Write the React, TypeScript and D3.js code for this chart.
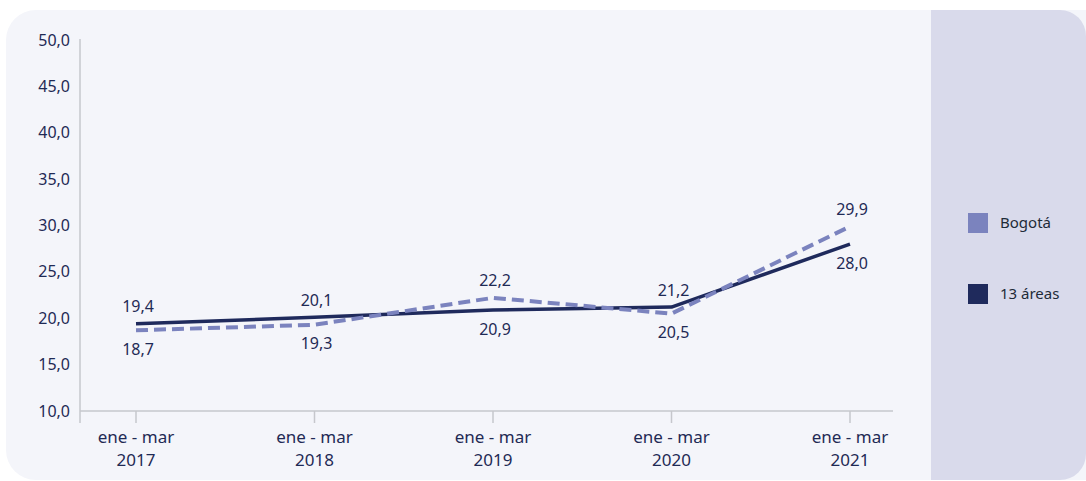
import React, { useEffect, useRef } from 'react';
import * as d3 from 'd3';

const categories = ['2017', '2018', '2019', '2020', '2021'];
const periodLabel = 'ene - mar';
const bogota = [18.7, 19.3, 22.2, 20.5, 29.9];
const areas13 = [19.4, 20.1, 20.9, 21.2, 28.0];
const yTicks = [10, 15, 20, 25, 30, 35, 40, 45, 50];
const seriesNames = ['Bogotá', '13 áreas'];

const W = 1086;
const H = 481;
const navy = '#1f2a5c';
const lilac = '#7b83be';
const textColor = '#1f2a55';
const font = '"Noto Sans", sans-serif';

const fmt = (v: number) => v.toFixed(1).replace('.', ',');

const App = () => {
  const ref = useRef<SVGSVGElement>(null);

  useEffect(() => {
    const svg = d3.select(ref.current);
    svg.selectAll('*').remove();

    // card background
    const card = { x: 6, y: 10, w: 1110, h: 470, r: 30 };
    svg.append('rect')
      .attr('x', card.x).attr('y', card.y)
      .attr('width', card.w).attr('height', card.h)
      .attr('rx', card.r)
      .style('fill', '#f4f5fa');

    // legend panel
    const clip = svg.append('clipPath').attr('id', 'cardclip');
    clip.append('rect')
      .attr('x', card.x).attr('y', card.y)
      .attr('width', W - card.x).attr('height', card.h)
      .attr('rx', 26);
    svg.append('rect')
      .attr('clip-path', 'url(#cardclip)')
      .attr('x', 931).attr('y', card.y)
      .attr('width', W - 931).attr('height', card.h)
      .style('fill', '#d9daeb');

    const x = d3.scalePoint<string>()
      .domain(categories)
      .range([136, 850]);

    const y = d3.scaleLinear()
      .domain([10, 50])
      .range([411, 40]);

    const axisColor = '#c6c7cc';
    const x0 = 80;
    const xEnd = 893;

    // y axis line
    svg.append('line')
      .attr('x1', x0).attr('x2', x0)
      .attr('y1', y(50) - 1).attr('y2', y(10) + 12)
      .style('stroke', axisColor).style('stroke-width', 1.5);

    // x axis line
    svg.append('line')
      .attr('x1', x0).attr('x2', xEnd)
      .attr('y1', y(10)).attr('y2', y(10))
      .style('stroke', axisColor).style('stroke-width', 1.5);

    // y tick labels
    svg.selectAll('.ytick')
      .data(yTicks)
      .enter().append('text')
      .attr('x', x0 - 10)
      .attr('y', d => y(d))
      .attr('dy', '0.35em')
      .attr('text-anchor', 'end')
      .style('font-family', font)
      .style('font-size', '16px')
      .style('fill', textColor)
      .text(d => fmt(d));

    // x ticks
    svg.selectAll('.xtick')
      .data(categories)
      .enter().append('line')
      .attr('x1', d => x(d)!).attr('x2', d => x(d)!)
      .attr('y1', y(10)).attr('y2', y(10) + 12)
      .style('stroke', axisColor).style('stroke-width', 1.5);

    const xl = svg.selectAll('.xlabel')
      .data(categories)
      .enter().append('text')
      .attr('text-anchor', 'middle')
      .style('font-family', font)
      .style('font-size', '17px')
      .style('fill', textColor);
    xl.append('tspan')
      .attr('x', d => x(d)!)
      .attr('y', 443)
      .text(periodLabel);
    xl.append('tspan')
      .attr('x', d => x(d)!)
      .attr('y', 466)
      .text(d => d);

    const line = d3.line<number>()
      .x((_, i) => x(categories[i])!)
      .y(d => y(d));

    svg.append('path')
      .datum(areas13)
      .attr('d', line)
      .style('fill', 'none')
      .style('stroke', navy)
      .style('stroke-width', 3.5)
      .style('stroke-linejoin', 'round');

    svg.append('path')
      .datum(bogota)
      .attr('d', line)
      .style('fill', 'none')
      .style('stroke', lilac)
      .style('stroke-width', 4)
      .style('stroke-linejoin', 'round')
      .style('stroke-dasharray', '12 6');

    // data labels: higher value above, lower below
    const labels: { v: number; i: number; above: boolean }[] = [];
    categories.forEach((_, i) => {
      const b = bogota[i];
      const a = areas13[i];
      labels.push({ v: b, i, above: b >= a });
      labels.push({ v: a, i, above: a > b });
    });

    svg.selectAll('.dlabel')
      .data(labels)
      .enter().append('text')
      .attr('x', d => x(categories[d.i])! + 2)
      .attr('y', d => y(d.v) + (d.above ? -17 : 19))
      .attr('dy', '0.35em')
      .attr('text-anchor', 'middle')
      .style('font-family', font)
      .style('font-size', '16px')
      .style('fill', textColor)
      .text(d => fmt(d.v));

    // legend
    const legendColors = [lilac, navy];
    const lg = svg.selectAll('.legend')
      .data(seriesNames)
      .enter().append('g')
      .attr('transform', (_, i) => `translate(968, ${213 + i * 71})`);
    lg.append('rect')
      .attr('width', 20).attr('height', 20)
      .style('fill', (_, i) => legendColors[i]);
    lg.append('text')
      .attr('x', 32)
      .attr('y', 10)
      .attr('dy', '0.35em')
      .style('font-family', font)
      .style('font-size', '15px')
      .style('fill', '#1e2b38')
      .text(d => d);
  }, []);

  return (
    <svg
      ref={ref}
      width={W}
      height={H}
      style={{ position: 'absolute', left: 0, top: 0, background: '#ffffff' }}
    />
  );
};

export default App;
